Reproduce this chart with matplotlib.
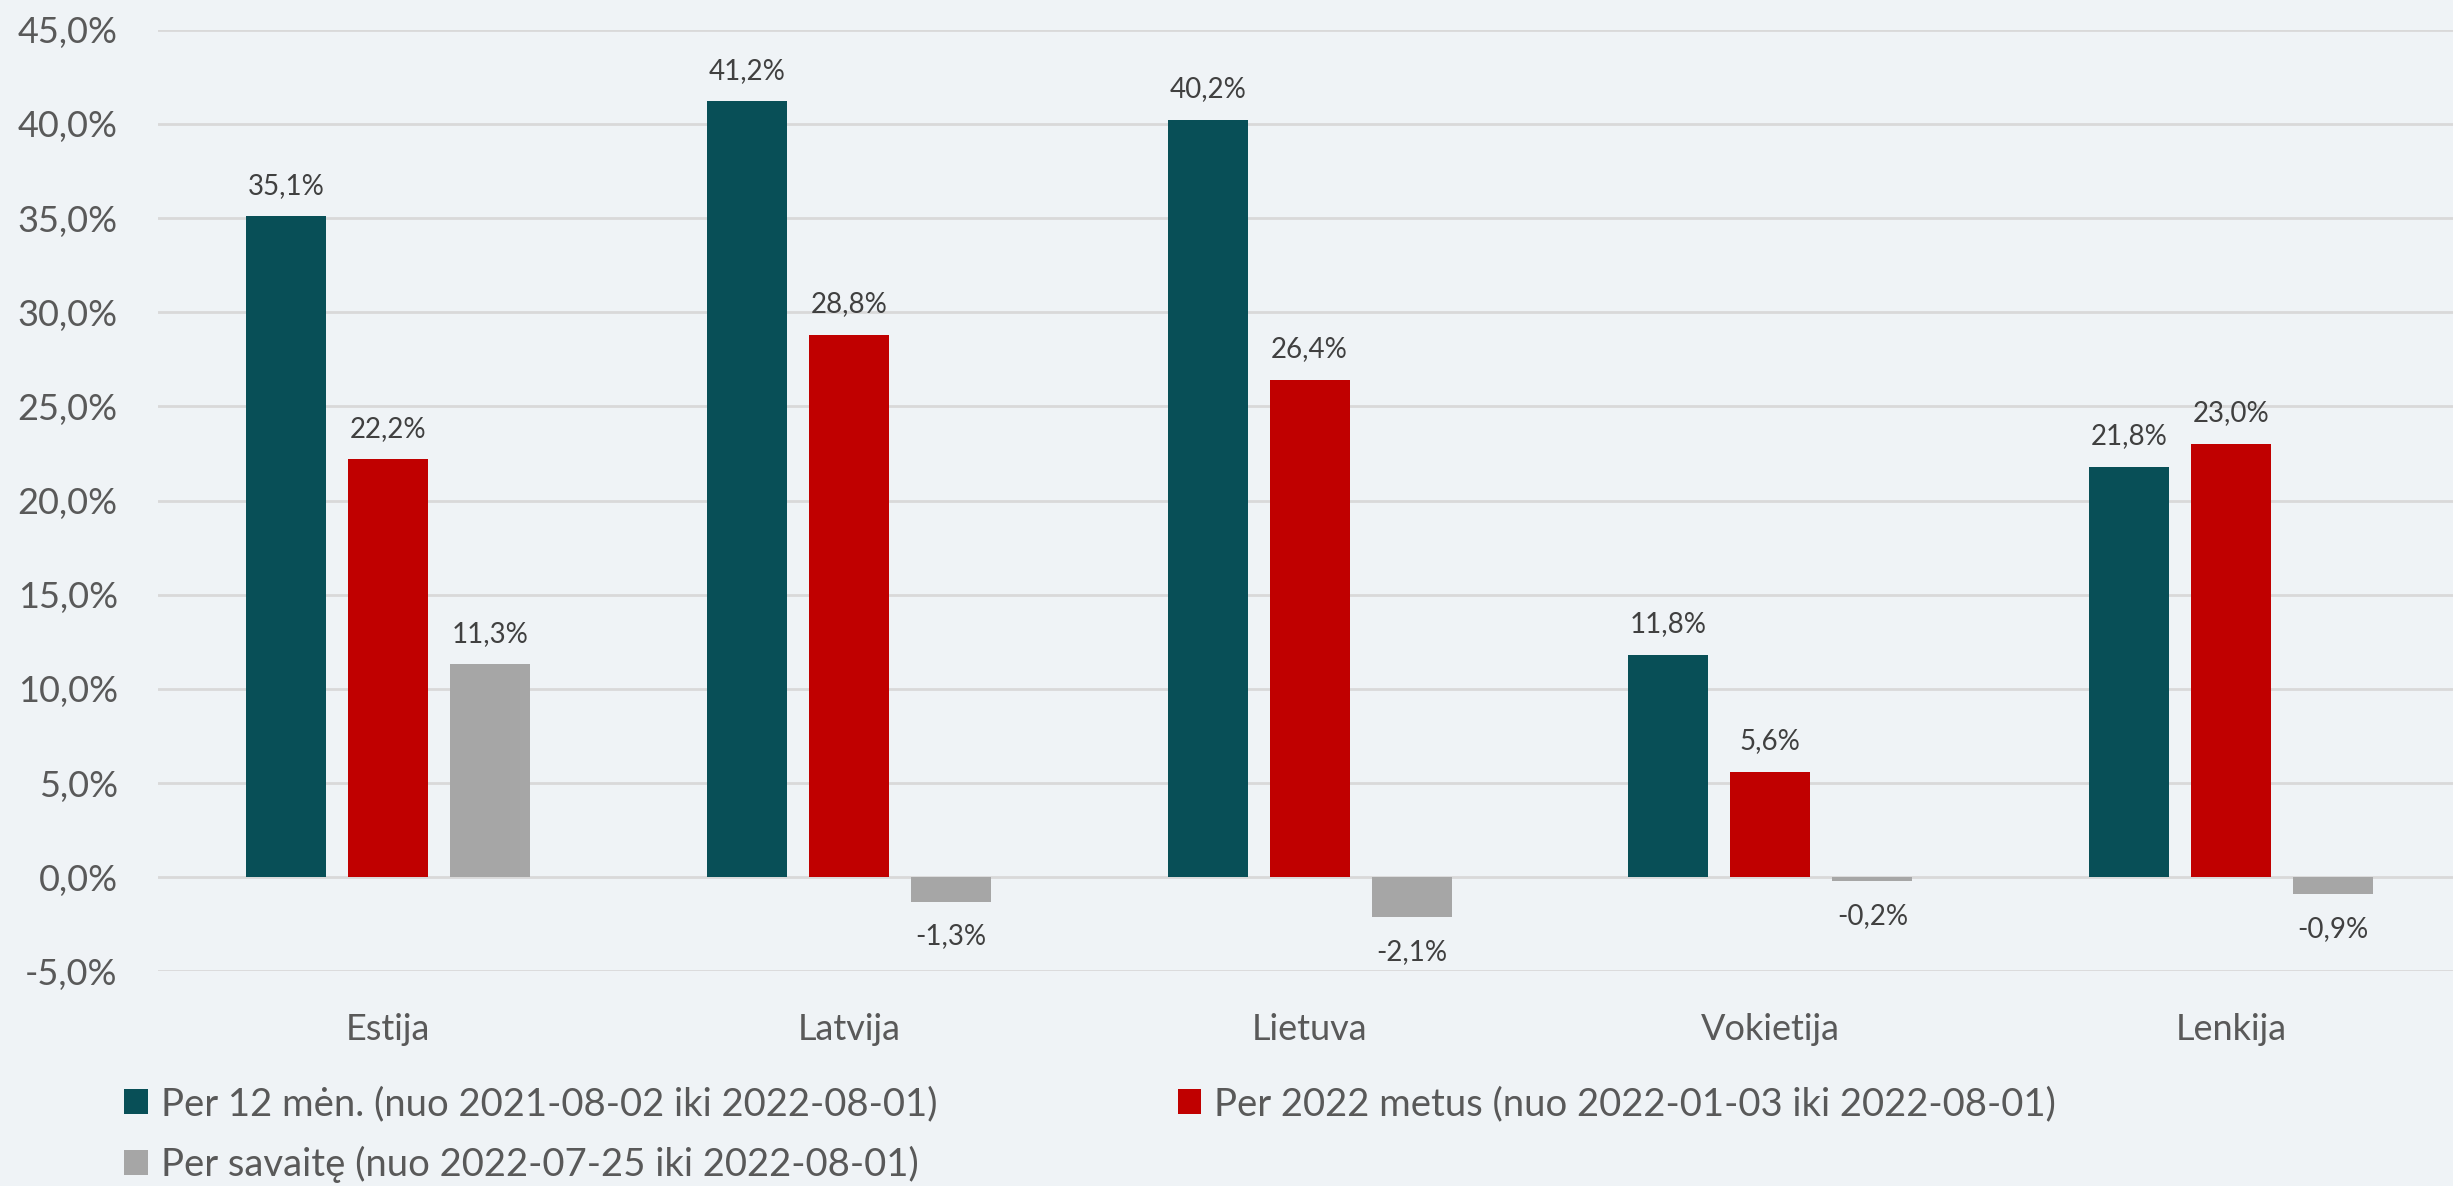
import numpy as np
import matplotlib
matplotlib.use("Agg")
import matplotlib.pyplot as plt
from matplotlib.patches import Patch

# data
countries = ["Estija", "Latvija", "Lietuva", "Vokietija", "Lenkija"]
per_12_men = [35.1, 41.2, 40.2, 11.8, 21.8]
per_2022 = [22.2, 28.8, 26.4, 5.6, 23.0]
per_savaite = [11.3, -1.3, -2.1, -0.2, -0.9]

series_names = [
    "Per 12 mėn. (nuo 2021-08-02 iki 2022-08-01)",
    "Per 2022 metus (nuo 2022-01-03 iki 2022-08-01)",
    "Per savaitę (nuo 2022-07-25 iki 2022-08-01)",
]
colors = ["#084F57", "#C00000", "#A6A6A6"]
bg = "#EFF3F6"

plt.rcParams['font.family'] = ['Lato', 'DejaVu Sans']

fig = plt.figure(figsize=(24.53, 11.86), dpi=100, facecolor=bg)
ax = fig.add_axes([0.0644, 0.1809, 0.939, 0.7941])
ax.set_facecolor(bg)

x = np.arange(len(countries))
width = 0.174
step = 0.2214

handles = []
for i, (vals, col, name) in enumerate(zip([per_12_men, per_2022, per_savaite], colors, series_names)):
    xs = x + (i - 1) * step
    ax.bar(xs, vals, width=width, color=col, zorder=3)
    handles.append(Patch(facecolor=col, label=name))
    # value labels
    for xi, v in zip(xs, vals):
        lab = ("%.1f%%" % v).replace(".", ",")
        off = 22 if v >= 0 else -25
        ax.annotate(lab, (xi, v), xytext=(0, off), textcoords="offset points",
                    ha="center", va="center", fontsize=20, color="#404040")

ax.set_xlim(-0.5, len(countries) - 0.5)
ax.set_ylim(-5, 45)
yt = np.arange(-5, 46, 5)
ax.set_yticks(yt)
ax.set_yticklabels([("%.1f%%" % t).replace(".", ",") for t in yt])
ax.set_xticks(x)
ax.set_xticklabels(countries)
ax.tick_params(axis="y", length=0, pad=29, labelsize=26, labelcolor="#595959")
ax.tick_params(axis="x", length=0, pad=30, labelsize=26, labelcolor="#595959")
ax.grid(axis="y", color="#D9D9D9", linewidth=2, zorder=0)
for s in ax.spines.values():
    s.set_visible(False)

# legend, row-major order
leg = fig.legend([handles[0], handles[2], handles[1]],
                 [series_names[0], series_names[2], series_names[1]],
                 ncol=2, loc="upper left", bbox_to_anchor=(124 / 2453, 1 - 1086 / 1186),
                 frameon=False, fontsize=27.5, labelcolor="#595959",
                 handlelength=0.62, handleheight=0.62, handletextpad=0.34,
                 columnspacing=6.3, labelspacing=0.62, borderpad=0, borderaxespad=0)

fig.savefig("out.png", dpi=100, facecolor=bg)
